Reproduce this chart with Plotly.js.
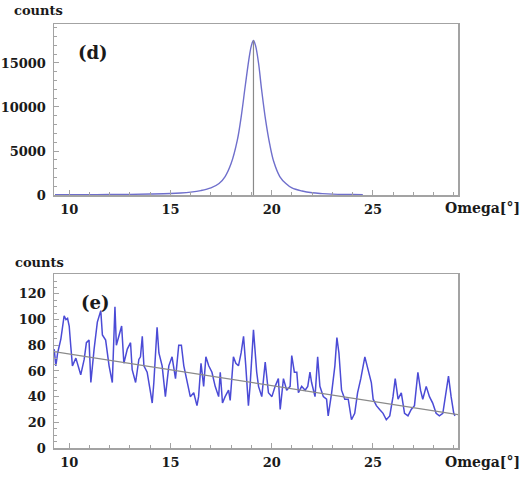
<!DOCTYPE html>
<html>
<head>
<meta charset="utf-8">
<script src="https://cdn.plot.ly/plotly-3.0.1.min.js"></script>
<style>html,body{margin:0;padding:0;background:#fff;}#chart{width:521px;height:477px;}</style>
</head>
<body>
<div id="chart"></div>
<script>
// Panel (d): rocking curve peak
const peakOmega = [9.3, 10, 11, 12, 13, 14, 15, 15.5, 16, 16.5, 17, 17.4, 17.7, 18.0, 18.3, 18.5, 18.7, 18.9, 19.0, 19.1, 19.2, 19.35, 19.5, 19.7, 19.9, 20.1, 20.4, 20.7, 21.0, 21.5, 22, 22.5, 23, 24, 24.5];
const peakCounts = [20, 30, 40, 50, 70, 110, 170, 230, 330, 500, 800, 1300, 2100, 3600, 6200, 9000, 12500, 15800, 17000, 17550, 17000, 15000, 12000, 8500, 5800, 3800, 2100, 1300, 800, 450, 250, 160, 100, 50, 20];
const peakCentre = [19.1, 19.1];
const peakCentreCounts = [0, 17550];

// Panel (e): noisy scan with linear background
const scanOmega = [9.26, 9.34, 9.43, 9.59, 9.75, 9.84, 9.92, 10.0, 10.08, 10.16, 10.33, 10.49, 10.57, 10.74, 10.85, 10.98, 11.07, 11.23, 11.39, 11.56, 11.64, 11.80, 11.97, 12.13, 12.26, 12.33, 12.46, 12.59, 12.70, 12.87, 13.03, 13.11, 13.28, 13.44, 13.52, 13.61, 13.69, 13.85, 14.02, 14.10, 14.18, 14.26, 14.34, 14.43, 14.59, 14.75, 14.84, 14.92, 15.08, 15.25, 15.41, 15.54, 15.66, 15.82, 15.98, 16.15, 16.31, 16.39, 16.51, 16.64, 16.75, 16.89, 17.05, 17.21, 17.38, 17.46, 17.57, 17.70, 17.87, 17.95, 18.11, 18.23, 18.36, 18.49, 18.61, 18.72, 18.85, 18.93, 19.10, 19.26, 19.35, 19.51, 19.68, 19.84, 20.01, 20.17, 20.33, 20.42, 20.58, 20.74, 20.91, 20.99, 21.12, 21.24, 21.32, 21.48, 21.65, 21.78, 21.89, 21.97, 22.14, 22.27, 22.38, 22.55, 22.71, 22.79, 22.96, 23.12, 23.22, 23.32, 23.45, 23.61, 23.78, 23.94, 24.10, 24.24, 24.40, 24.60, 24.76, 24.92, 25.01, 25.17, 25.33, 25.50, 25.66, 25.83, 25.99, 26.10, 26.24, 26.40, 26.56, 26.73, 26.89, 27.05, 27.22, 27.35, 27.46, 27.63, 27.79, 27.95, 28.12, 28.28, 28.45, 28.61, 28.73, 28.86, 28.99, 29.05];
const scanCounts = [77, 64, 74, 85, 103, 100, 101, 95, 79, 64, 70, 61, 57, 69, 82, 84, 51, 77, 98, 107, 88, 84, 64, 51, 110, 80, 87, 95, 66, 77, 82, 61, 51, 69, 71, 87, 64, 59, 43, 35, 51, 78, 94, 74, 64, 40, 54, 64, 71, 54, 80, 80, 64, 51, 40, 43, 33, 40, 66, 48, 71, 64, 59, 48, 40, 59, 35, 40, 45, 37, 71, 66, 64, 74, 87, 64, 33, 48, 92, 59, 48, 40, 67, 43, 40, 48, 54, 30, 54, 45, 48, 72, 59, 59, 43, 48, 45, 48, 59, 51, 40, 71, 48, 40, 38, 25, 43, 64, 86, 74, 45, 38, 38, 22, 27, 43, 54, 71, 61, 51, 38, 33, 30, 27, 22, 25, 40, 54, 38, 43, 27, 25, 30, 33, 59, 45, 38, 48, 40, 35, 27, 25, 27, 43, 56, 40, 27, 25];
const fitOmega = [9.25, 29.2];
const fitCounts = [75, 26];

const xTicks = [10, 15, 20, 25];
const yTicksTop = [0, 5000, 10000, 15000];
const yTicksBottom = [0, 20, 40, 60, 80, 100, 120];

const W = 521, H = 477;
const px = v => v / W, py = v => 1 - v / H;
const tickFont = {family: 'DejaVu Serif', size: 13, color: '#1a1a1a', weight: 'bold'};
const frame = '#a3a3a3';

const baseX = {
  range: [9.25, 29.2], showgrid: false, zeroline: false,
  showline: true, linecolor: frame, linewidth: 1.5, mirror: true,
  ticks: 'inside', ticklen: 5, tickcolor: frame, tickvals: xTicks, tickformat: 'd',
  tickfont: tickFont, ticklabelstandoff: 2,
  minor: {dtick: 1, ticks: 'inside', ticklen: 3, tickcolor: frame, showgrid: false},
  domain: [px(54), px(458)]
};
const baseY = {
  showgrid: false, zeroline: false,
  showline: true, linecolor: frame, linewidth: 1.5, mirror: true,
  ticks: 'inside', ticklen: 5, tickcolor: frame, tickformat: 'd',
  tickfont: tickFont, ticklabelstandoff: 4
};

const traces = [
  {x: peakOmega, y: peakCounts, xaxis: 'x', yaxis: 'y', mode: 'lines', line: {color: '#6f6fcc', width: 1.4, shape: 'spline'}, hoverinfo: 'skip'},
  {x: peakCentre, y: peakCentreCounts, xaxis: 'x', yaxis: 'y', mode: 'lines', line: {color: '#8a8a8a', width: 1.2}, hoverinfo: 'skip'},
  {x: scanOmega, y: scanCounts, xaxis: 'x2', yaxis: 'y2', mode: 'lines', line: {color: '#4b4bd6', width: 1.5}, hoverinfo: 'skip'},
  {x: fitOmega, y: fitCounts, xaxis: 'x2', yaxis: 'y2', mode: 'lines', line: {color: '#8a8a8a', width: 1.2}, hoverinfo: 'skip'}
];

const labelFont = {family: 'DejaVu Serif', size: 13, color: '#1a1a1a', weight: 'bold'};
const layout = {
  width: W, height: H,
  margin: {l: 0, r: 0, t: 0, b: 0},
  paper_bgcolor: '#ffffff', plot_bgcolor: '#ffffff',
  showlegend: false,
  xaxis: Object.assign({}, baseX, {anchor: 'y'}),
  yaxis: Object.assign({}, baseY, {anchor: 'x', range: [0, 19430], tickvals: yTicksTop,
    domain: [py(195), py(24)], minor: {dtick: 1000, ticks: 'inside', ticklen: 3, tickcolor: frame, showgrid: false}}),
  xaxis2: Object.assign({}, baseX, {anchor: 'y2'}),
  yaxis2: Object.assign({}, baseY, {anchor: 'x2', range: [0, 135.5], tickvals: yTicksBottom,
    domain: [py(448), py(274)], minor: {dtick: 5, ticks: 'inside', ticklen: 3, tickcolor: frame, showgrid: false}}),
  annotations: [
    {text: 'counts', xref: 'paper', yref: 'paper', x: px(12), y: py(11), xanchor: 'left', yanchor: 'middle', showarrow: false, font: labelFont},
    {text: 'counts', xref: 'paper', yref: 'paper', x: px(13), y: py(262), xanchor: 'left', yanchor: 'middle', showarrow: false, font: labelFont},
    {text: 'Omega[°]', xref: 'paper', yref: 'paper', x: px(443), y: py(208), xanchor: 'left', yanchor: 'middle', showarrow: false, font: {family: 'DejaVu Serif', size: 14, color: '#1a1a1a', weight: 'bold'}},
    {text: 'Omega[°]', xref: 'paper', yref: 'paper', x: px(443), y: py(462), xanchor: 'left', yanchor: 'middle', showarrow: false, font: {family: 'DejaVu Serif', size: 14, color: '#1a1a1a', weight: 'bold'}},
    {text: '(d)', xref: 'paper', yref: 'paper', x: px(93), y: py(52), xanchor: 'center', yanchor: 'middle', showarrow: false, font: {family: 'DejaVu Serif', size: 18, color: '#1a1a1a', weight: 'bold'}},
    {text: '(e)', xref: 'paper', yref: 'paper', x: px(95), y: py(302), xanchor: 'center', yanchor: 'middle', showarrow: false, font: {family: 'DejaVu Serif', size: 18, color: '#1a1a1a', weight: 'bold'}}
  ]
};

Plotly.newPlot('chart', traces, layout, {staticPlot: true, displayModeBar: false});
</script>
</body>
</html>
